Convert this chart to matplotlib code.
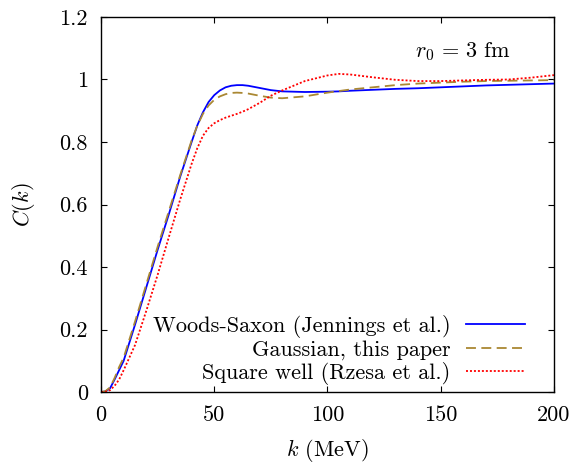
#!/usr/bin/env python3
"""Correlation function C(k) for r0 = 3 fm, three source models."""

import matplotlib
matplotlib.use('Agg')
import matplotlib.pyplot as plt
from matplotlib.ticker import FuncFormatter

# momentum grid (MeV)
k = [0, 2, 4, 6, 8, 10, 15, 20, 25, 30, 35, 40, 42.5, 45, 47.5, 50, 52.5, 55,
     57.5, 60, 62.5, 65, 70, 75, 80, 90, 100, 105, 110, 120, 130, 140, 150,
     160, 170, 180, 190, 200]

woods_saxon = [0.0, 0.002, 0.012, 0.04, 0.07, 0.10, 0.215, 0.335, 0.455, 0.57,
               0.69, 0.80, 0.853, 0.895, 0.928, 0.950, 0.965, 0.975, 0.980,
               0.982, 0.982, 0.980, 0.973, 0.966, 0.962, 0.960, 0.961, 0.962,
               0.964, 0.967, 0.970, 0.972, 0.975, 0.978, 0.981, 0.983, 0.985,
               0.987]

gaussian = [0.0, 0.003, 0.015, 0.045, 0.08, 0.11, 0.225, 0.345, 0.465, 0.58,
            0.695, 0.805, 0.852, 0.89, 0.917, 0.935, 0.946, 0.953, 0.957,
            0.958, 0.957, 0.955, 0.948, 0.942, 0.940, 0.946, 0.958, 0.963,
            0.968, 0.975, 0.982, 0.987, 0.990, 0.993, 0.995, 0.996, 0.997,
            0.998]

square_well = [0.0, 0.001, 0.006, 0.02, 0.04, 0.07, 0.15, 0.26, 0.375, 0.497,
               0.617, 0.73, 0.78, 0.82, 0.845, 0.86, 0.87, 0.878, 0.884, 0.89,
               0.897, 0.905, 0.925, 0.948, 0.965, 0.995, 1.013, 1.018, 1.016,
               1.007, 0.999, 0.995, 0.995, 0.997, 0.999, 1.000, 1.006, 1.014]

labels = ['Woods-Saxon (Jennings et al.)', 'Gaussian, this paper',
          'Square well (Rzesa et al.)']
x_ticks = [0, 50, 100, 150, 200]
y_ticks = [0, 0.2, 0.4, 0.6, 0.8, 1.0, 1.2]

plt.rcParams['font.family'] = ['cmr10', 'DejaVu Serif']
plt.rcParams['mathtext.fontset'] = 'cm'
plt.rcParams['axes.unicode_minus'] = False
plt.rcParams['axes.formatter.use_mathtext'] = True

fig = plt.figure(figsize=(5.72, 4.63), dpi=100)
ax = fig.add_axes([0.1766, 0.1533, 0.7919, 0.81])

ax.plot(k, woods_saxon, '-', color='#0000ff', linewidth=1.3, label=labels[0])
ax.plot(k, gaussian, '--', color='#aa8833', linewidth=1.3, dashes=(5.5, 3),
        label=labels[1])
ax.plot(k, square_well, ':', color='#ff0000', linewidth=1.3, dashes=(1.1, 1.1),
        label=labels[2])

ax.set_xlim(0, 200)
ax.set_ylim(0, 1.2)
ax.set_xticks(x_ticks)
ax.set_yticks(y_ticks)
ax.xaxis.set_major_formatter(FuncFormatter(lambda v, p: '%g' % v))
ax.yaxis.set_major_formatter(FuncFormatter(lambda v, p: '%g' % v))
ax.tick_params(direction='in', top=True, right=True, length=4.5, width=0.8,
               labelsize=16, pad=9.5)
for s in ax.spines.values():
    s.set_linewidth(1.0)

ax.set_xlabel(r'$k$ (MeV)', fontsize=16, labelpad=9)
ax.set_ylabel(r'$C(k)$', fontsize=16, labelpad=16)

ax.text(0.799, 0.907, r'$r_0 \,=\, 3\ \mathrm{fm}$', transform=ax.transAxes,
        ha='center', va='center', fontsize=16)

leg = ax.legend(loc='lower right', markerfirst=False, frameon=False,
                fontsize=16, handlelength=2.65, handletextpad=0.7,
                labelspacing=0.1, borderaxespad=0.0,
                bbox_to_anchor=(0.955, -0.005))

fig.savefig('out.png', dpi=100)
